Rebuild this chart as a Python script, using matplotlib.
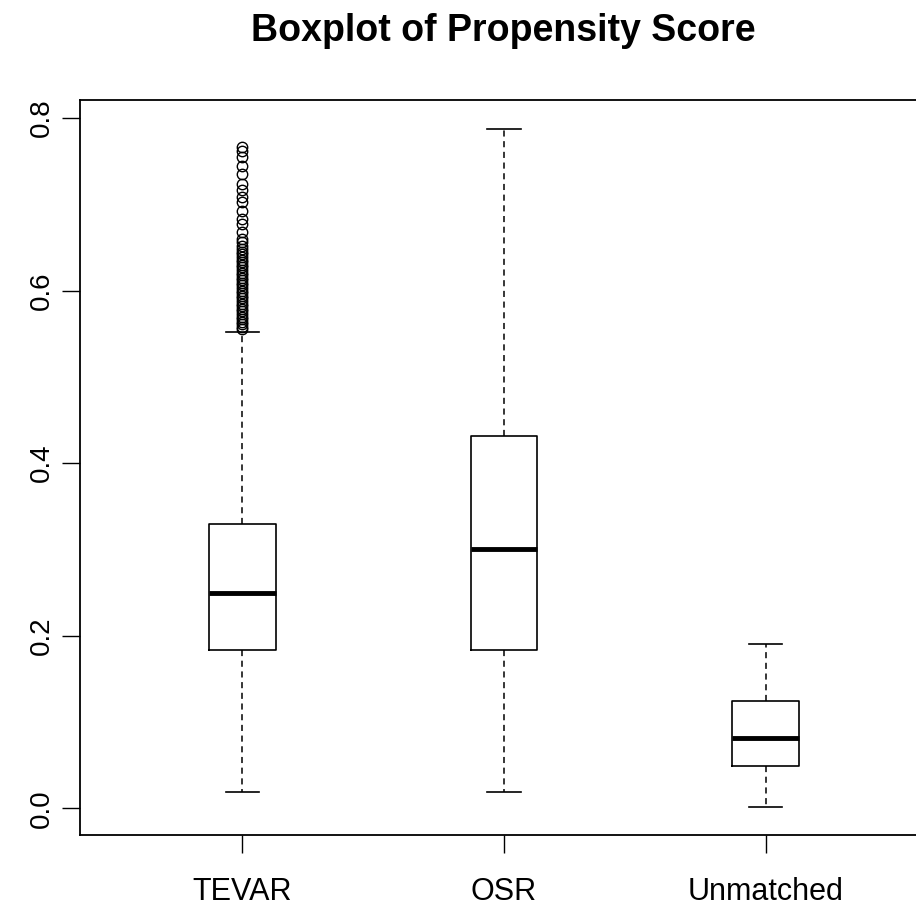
import matplotlib
matplotlib.use("Agg")
import matplotlib.pyplot as plt

categories = ["TEVAR", "OSR", "Unmatched"]
whislo = [0.019, 0.019, 0.002]
q1 = [0.184, 0.184, 0.049]
med = [0.249, 0.301, 0.082]
q3 = [0.330, 0.431, 0.124]
whishi = [0.552, 0.787, 0.190]
tevar_outliers = [0.767, 0.762, 0.755, 0.745, 0.735, 0.724, 0.717, 0.709, 0.703,
                  0.692, 0.683, 0.677, 0.668, 0.660, 0.656, 0.652, 0.648, 0.645,
                  0.642, 0.639, 0.636, 0.633, 0.630, 0.627, 0.624, 0.621, 0.618,
                  0.615, 0.612, 0.609, 0.606, 0.603, 0.600, 0.597, 0.594, 0.591,
                  0.588, 0.585, 0.582, 0.579, 0.576, 0.573, 0.570, 0.567, 0.564,
                  0.561, 0.558, 0.555]
fliers = [tevar_outliers, [], []]
yticks = [0.0, 0.2, 0.4, 0.6, 0.8]

plt.rcParams['font.family'] = ['Liberation Sans', 'DejaVu Sans']

fig = plt.figure(figsize=(9.16, 9.10), dpi=100)
ax = fig.add_axes([80/916, 1-835/910, (928-80)/916, (835-100)/910])

stats = []
for i, c in enumerate(categories):
    stats.append(dict(label=c, whislo=whislo[i], q1=q1[i], med=med[i], q3=q3[i],
                      whishi=whishi[i], fliers=fliers[i]))

ax.bxp(stats, positions=[1, 2, 3], widths=0.255, showfliers=True,
       boxprops=dict(color='black', linewidth=1.2),
       whiskerprops=dict(color='black', linewidth=1.1, linestyle=(0, (4, 3))),
       capprops=dict(color='black', linewidth=1.2),
       medianprops=dict(color='black', linewidth=3.5, solid_capstyle='butt'),
       flierprops=dict(marker='o', markerfacecolor='none', markeredgecolor='black',
                       markersize=7.5, markeredgewidth=1.0, linestyle='none'))

ax.set_xlim(0.38, 3.62)
ax.set_ylim(-0.031, 0.821)
ax.set_yticks(yticks)
ax.set_yticklabels([f"{v:.1f}" for v in yticks], rotation=90, va='center')
ax.set_xticks([1, 2, 3])
ax.set_xticklabels(categories)
ax.tick_params(axis='both', direction='out', length=13, width=1.0, color='black')
ax.tick_params(axis='x', pad=17, labelsize=22)
ax.tick_params(axis='y', pad=5, labelsize=20)
for s in ax.spines.values():
    s.set_linewidth(1.3)
    s.set_color('black')

fig.text(503/916, 1-31/910, "Boxplot of Propensity Score", ha='center', va='center',
         fontsize=27, fontweight='bold')

fig.savefig("out.png", dpi=100)
